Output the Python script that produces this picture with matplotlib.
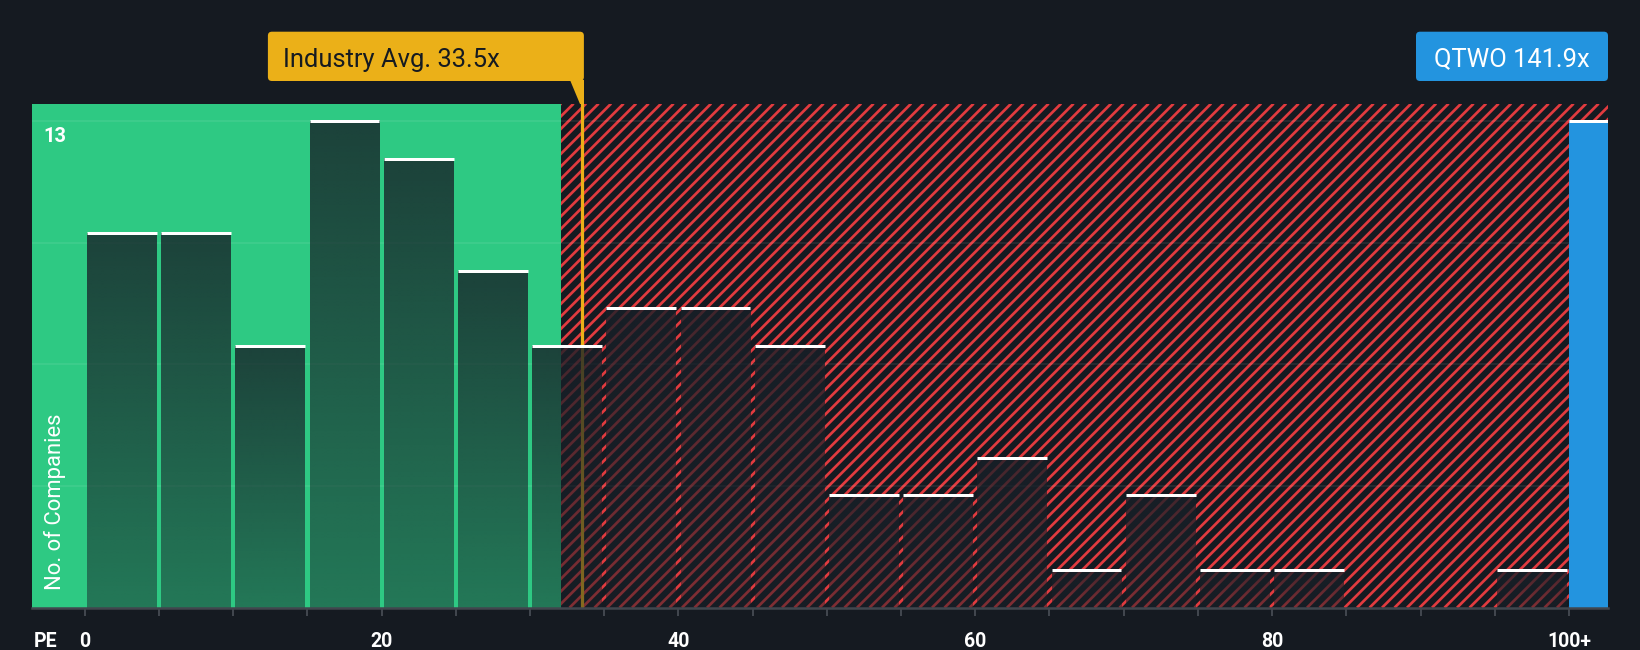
import matplotlib
matplotlib.use("Agg")
import matplotlib.pyplot as plt
import matplotlib.transforms as mtransforms
from matplotlib.patches import FancyBboxPatch, Polygon, Rectangle
from matplotlib.collections import LineCollection
import numpy as np

# ---------------- data ----------------
bin_lefts = [0, 5, 10, 15, 20, 25, 30, 35, 40, 45, 50, 55, 60, 65, 70, 75, 80, 85, 90, 95]
counts = [10, 10, 7, 13, 12, 9, 7, 8, 8, 7, 3, 3, 4, 1, 3, 1, 1, 0, 0, 1]
bin_width = 5
industry_avg = 33.5
fair_upper = 32.1
company_name = "QTWO"
company_pe = 141.9
company_pos = 100
y_top_label = 13
xtick_values = [0, 20, 40, 60, 80, 100]
xtick_labels = ["0", "20", "40", "60", "80", "100+"]
minor_ticks = list(range(0, 101, 5))

# ---------------- style ----------------
BG = "#151a21"
GREEN = "#2ec983"
RED = "#e23b3f"
BLUE = "#2394df"
YELLOW = "#ebb018"
AXIS_GRAY = "#41464e"
DARK_TEXT = "#151a21"

DPI = 114
W_PX, H_PX = 1640, 650
PT = 72.0 / DPI  # points per pixel

plt.rcParams["font.family"] = ["Roboto", "DejaVu Sans"]

fig = plt.figure(figsize=(W_PX / DPI, H_PX / DPI), dpi=DPI, facecolor=BG)

ax_left_px, ax_right_px = 32.4, 1608.0
ax_top_px, ax_bottom_px = 103.6, 607.7
ax = fig.add_axes([ax_left_px / W_PX, 1 - ax_bottom_px / H_PX,
                   (ax_right_px - ax_left_px) / W_PX,
                   (ax_bottom_px - ax_top_px) / H_PX])
ax.set_facecolor(BG)

xmin, xmax = -3.52, 102.63
ymax = 13.47
ax.set_xlim(xmin, xmax)
ax.set_ylim(0, ymax)

# zones
ax.axvspan(xmin, fair_upper, facecolor=GREEN, edgecolor="none", zorder=0)
hatch_rect = Rectangle((fair_upper, 0), xmax - fair_upper, ymax, facecolor=BG,
                       edgecolor="none", zorder=0)
ax.add_patch(hatch_rect)

# diagonal hatch lines (pixel space, 45 degrees), clipped to the overvalued zone
ident = mtransforms.IdentityTransform()
x0p, y0p = ax.transData.transform((fair_upper, 0))
x1p, y1p = ax.transData.transform((xmax, ymax))
hh = y1p - y0p
spacing = 12.5
cs = np.arange(x0p - hh - spacing, x1p + spacing, spacing)
segs = [[(c, y0p), (c + hh, y1p)] for c in cs]
lc = LineCollection(segs, colors=RED, linewidths=2.7 * PT, transform=ident, zorder=0.5)
ax.add_collection(lc, autolim=False)
lc.set_clip_path(hatch_rect)

# grid lines
for gy in [y_top_label * k / 4 for k in range(1, 5)]:
    ax.axhline(gy, color="white", alpha=0.09, lw=1.6 * PT, zorder=1)

# industry average line
ax.axvline(industry_avg, color=YELLOW, lw=3.2 * PT, zorder=2)

# histogram bars with vertical gradient
overlay = np.array([24, 32, 40]) / 255.0
n = 256
alphas = np.linspace(0.80, 0.48, n)
grad = np.zeros((n, 1, 4))
grad[:, 0, :3] = overlay
grad[:, 0, 3] = alphas
gap = 0.15
for x0, c in zip(bin_lefts, counts):
    if c <= 0:
        continue
    xa, xb = x0 + gap, x0 + bin_width - gap
    ax.imshow(grad, extent=[xa, xb, 0, c], aspect="auto", zorder=3,
              interpolation="bilinear", origin="upper")
    ax.hlines(c, xa, xb, color="white", lw=3 * PT, zorder=4)

# company bar
ax.bar(company_pos, y_top_label, width=xmax - company_pos, align="edge",
       color=BLUE, zorder=3, linewidth=0)
ax.hlines(y_top_label, company_pos, xmax, color="white", lw=3 * PT, zorder=4)

ax.set_xlim(xmin, xmax)
ax.set_ylim(0, ymax)

# axes styling
for s in ["top", "left", "right"]:
    ax.spines[s].set_visible(False)
ax.spines["bottom"].set_color(AXIS_GRAY)
ax.spines["bottom"].set_linewidth(2.5 * PT)
ax.spines["bottom"].set_zorder(5)
ax.set_yticks([])
ax.set_xticks(xtick_values)
ax.set_xticklabels(xtick_labels)
ax.set_xticks(minor_ticks, minor=True)
ax.tick_params(axis="x", which="both", length=8 * PT, width=2 * PT, color=AXIS_GRAY)
ax.tick_params(axis="x", which="major", labelsize=19.5 * PT, labelcolor="white", pad=16 * PT)
for lab in ax.get_xticklabels():
    lab.set_fontweight("bold")

# PE label
ax.text((46 - ax_left_px) / (ax_right_px - ax_left_px),
        (ax_bottom_px - 647) / (ax_bottom_px - ax_top_px), "PE",
        transform=ax.transAxes, ha="center", va="baseline",
        color="white", fontsize=19.5 * PT, fontweight="bold")

# y max label
lab_x = (55 - ax_left_px) / (ax_right_px - ax_left_px)
ax.text(lab_x, y_top_label, str(y_top_label),
        transform=mtransforms.offset_copy(
            mtransforms.blended_transform_factory(ax.transAxes, ax.transData),
            fig=fig, x=0, y=-6, units="dots"),
        ha="center", va="top", color="white", fontsize=20 * PT, fontweight="bold", zorder=6)

# y axis title
ax.text(lab_x, (ax_bottom_px - 590) / (ax_bottom_px - ax_top_px), "No. of Companies",
        transform=ax.transAxes, rotation=90, ha="center", va="bottom",
        color="white", fontsize=22 * PT, zorder=6)

# ---------------- annotation boxes (pixel coords) ----------------
line_x = ax.transData.transform((industry_avg, 0))[0]
box_top = H_PX - 31.7
box_bot = H_PX - 81.0
axes_top = H_PX - ax_top_px

ib_right = line_x + 2.0
ib_left = ib_right - 316
fig.add_artist(FancyBboxPatch((ib_left, box_bot), ib_right - ib_left, box_top - box_bot,
                              boxstyle="round,pad=0,rounding_size=4",
                              facecolor=YELLOW, edgecolor="none", transform=ident))
fig.add_artist(Polygon([(ib_right - 14, box_bot + 1), (ib_right, box_bot + 1),
                        (ib_right, axes_top), (line_x - 1.6, axes_top)],
                       closed=True, facecolor=YELLOW, edgecolor="none", transform=ident))
fig.text(ib_left + 14.7, H_PX - 66.7, f"Industry Avg. {industry_avg}x", transform=ident,
         ha="left", va="baseline", color=DARK_TEXT, fontsize=25.5 * PT)

qb_right = ax.transData.transform((xmax, 0))[0]
qb_left = qb_right - 192
fig.add_artist(FancyBboxPatch((qb_left, box_bot), qb_right - qb_left, box_top - box_bot,
                              boxstyle="round,pad=0,rounding_size=4",
                              facecolor=BLUE, edgecolor="none", transform=ident))
fig.text((qb_left + qb_right) / 2, H_PX - 66.3, f"{company_name} {company_pe}x", transform=ident,
         ha="center", va="baseline", color="white", fontsize=25.5 * PT)

fig.savefig("out.png", dpi=DPI, facecolor=BG)
